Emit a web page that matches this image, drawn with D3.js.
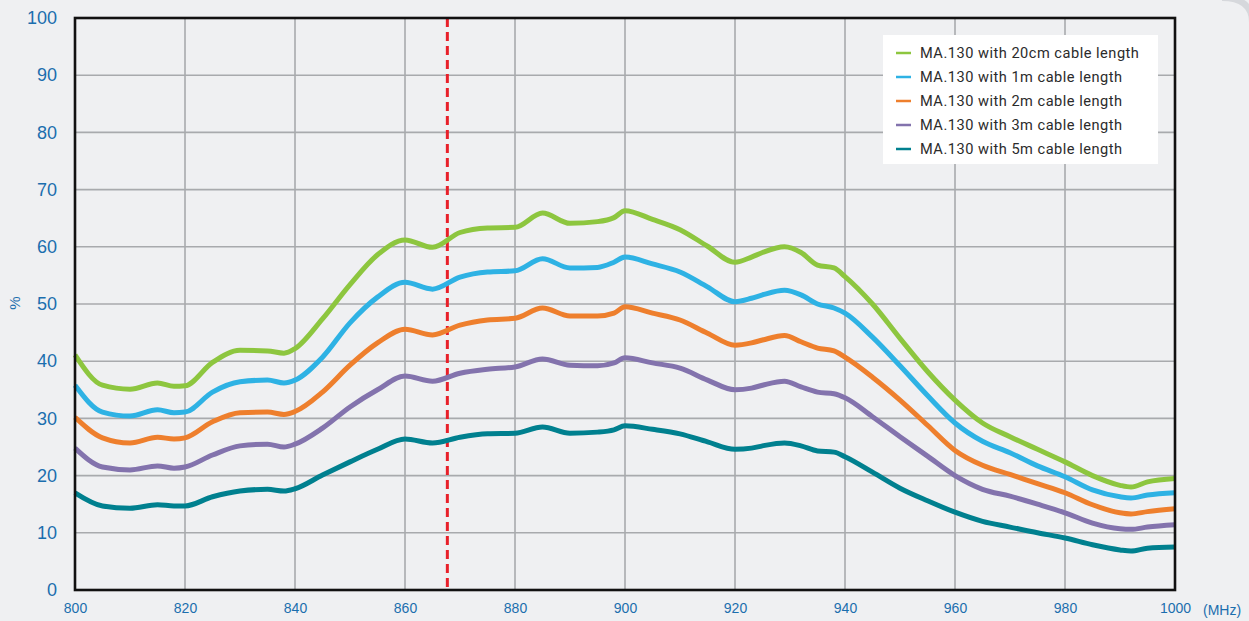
<!DOCTYPE html>
<html>
<head>
<meta charset="utf-8">
<script src="https://cdn.jsdelivr.net/npm/d3@7"></script>
<style>
  html, body { margin: 0; padding: 0; background: #eff0f2; }
  svg { display: block; }
</style>
</head>
<body>
<svg id="chart" width="1249" height="621"></svg>
<script>
// Frequency sample points (MHz)
const freqs = [800,805,810,815,818,820,825,830,835,838,840,845,850,855,860,865,870,875,880,885,890,895,898,900,905,910,915,920,923,925,929,932,935,938,940,945,950,955,960,965,970,975,980,985,990,992,995,1000];

// Efficiency (%) per cable length
const cable20cm = [41.1,35.8,35.1,36.2,35.6,35.7,39.8,41.9,41.8,41.4,42.2,47.4,53.4,58.6,61.2,59.9,62.5,63.3,63.4,65.9,64.1,64.4,65.1,66.3,64.8,63.0,60.1,57.3,58.2,59.0,60.0,59.0,56.8,56.3,54.8,50.0,44.0,38.2,33.2,29.2,26.8,24.6,22.4,20.0,18.3,18.0,18.9,19.5];
const cable1m   = [35.8,31.1,30.4,31.5,31.0,31.1,34.6,36.4,36.7,36.2,36.7,40.7,46.7,51.2,53.8,52.6,54.7,55.6,55.8,57.9,56.3,56.4,57.3,58.2,57.0,55.6,53.0,50.4,51.0,51.6,52.4,51.6,50.0,49.3,48.4,44.2,39.2,34.0,29.2,26.0,24.0,21.7,19.8,17.5,16.3,16.1,16.6,17.0];
const cable2m   = [30.2,26.6,25.7,26.7,26.4,26.6,29.4,31.0,31.1,30.7,31.2,34.6,39.3,43.2,45.6,44.6,46.3,47.2,47.5,49.3,47.9,47.9,48.4,49.5,48.4,47.2,44.9,42.8,43.2,43.7,44.5,43.4,42.3,41.8,40.7,37.2,33.2,28.8,24.4,21.8,20.2,18.6,17.0,14.9,13.5,13.3,13.7,14.2];
const cable3m   = [24.8,21.5,21.0,21.7,21.3,21.5,23.6,25.2,25.5,25.0,25.5,28.3,32.0,35.0,37.4,36.5,37.9,38.6,39.0,40.4,39.3,39.2,39.7,40.6,39.7,38.8,36.7,35.0,35.3,35.8,36.5,35.5,34.6,34.3,33.6,30.3,26.8,23.4,20.0,17.6,16.4,15.0,13.5,11.7,10.7,10.6,11.0,11.4];
const cable5m   = [17.0,14.7,14.3,14.9,14.7,14.7,16.3,17.3,17.6,17.3,17.7,20.1,22.4,24.6,26.4,25.7,26.7,27.3,27.4,28.5,27.4,27.6,28.0,28.7,28.1,27.3,25.9,24.6,24.8,25.2,25.7,25.2,24.3,24.1,23.3,20.6,17.8,15.6,13.6,12.0,11.0,10.0,9.1,7.9,7.0,6.8,7.3,7.5];

const seriesNames  = ["MA.130 with 20cm cable length","MA.130 with 1m cable length","MA.130 with 2m cable length","MA.130 with 3m cable length","MA.130 with 5m cable length"];
const seriesValues = [cable20cm, cable1m, cable2m, cable3m, cable5m];
const seriesColors = ["#8dc63f","#2eb2e4","#ee7f2d","#8373ad","#00808f"];

const xTicks = [800,820,840,860,880,900,920,940,960,980,1000];
const yTicks = [0,10,20,30,40,50,60,70,80,90,100];
const markerFreq = 867.7;   // dashed marker

const svg = d3.select("#chart");
const plot = {left: 75, right: 1175, top: 18, bottom: 590};

const x = d3.scaleLinear().domain([800, 1000]).range([plot.left, plot.right]);
const y = d3.scaleLinear().domain([0, 100]).range([plot.bottom, plot.top]);

// rounded page corner in the top right
svg.append("path")
  .attr("d", "M1222,-2 Q1252,-2 1252,22")
  .attr("fill", "none").attr("stroke", "#d6d8dc").attr("stroke-width", 6);

// grid
const grid = svg.append("g");
grid.selectAll("line.v").data(xTicks.slice(1, -1)).join("line")
  .attr("x1", d => x(d)).attr("x2", d => x(d))
  .attr("y1", plot.top).attr("y2", plot.bottom)
  .attr("stroke", "#a8aaad").attr("stroke-width", 1.6);
grid.selectAll("line.h").data(yTicks.slice(1, -1)).join("line")
  .attr("x1", plot.left).attr("x2", plot.right)
  .attr("y1", d => y(d)).attr("y2", d => y(d))
  .attr("stroke", "#a8aaad").attr("stroke-width", 1.6);

// legend
const lg = svg.append("g");
lg.append("rect").attr("x", 883).attr("y", 35).attr("width", 275).attr("height", 129).attr("fill", "#ffffff");
seriesNames.forEach((name, i) => {
  const cy = 53 + i * 24;
  lg.append("line").attr("x1", 896).attr("x2", 911).attr("y1", cy).attr("y2", cy)
    .attr("stroke", seriesColors[i]).attr("stroke-width", 2.5);
  lg.append("text").attr("x", 920).attr("y", cy).attr("dy", "0.36em")
    .attr("font-family", "Roboto, 'DejaVu Sans', sans-serif").attr("font-size", 14.6)
    .attr("letter-spacing", 0.5)
    .attr("fill", "#2b2b2b").text(name);
});

// dashed marker
svg.append("line")
  .attr("x1", x(markerFreq)).attr("x2", x(markerFreq))
  .attr("y1", plot.top).attr("y2", plot.bottom)
  .attr("stroke", "#e8202a").attr("stroke-width", 3)
  .attr("stroke-dasharray", "9,5");

// series lines
const line = d3.line()
  .x((d, i) => x(freqs[i]))
  .y(d => y(d))
  .curve(d3.curveMonotoneX);

svg.append("g").selectAll("path").data(seriesValues).join("path")
  .attr("d", d => line(d))
  .attr("fill", "none")
  .attr("stroke", (d, i) => seriesColors[i])
  .attr("stroke-width", 5)
  .attr("stroke-linejoin", "round")
  .attr("stroke-linecap", "butt");

// frame
svg.append("rect")
  .attr("x", plot.left).attr("y", plot.top)
  .attr("width", plot.right - plot.left).attr("height", plot.bottom - plot.top)
  .attr("fill", "none").attr("stroke", "#111").attr("stroke-width", 2.6);

// axes labels
const axisColor = "#1b6eae";
const yAxis = d3.axisLeft(y).tickValues(yTicks).tickFormat(d3.format("d")).tickSize(0).tickPadding(18);
const gy = svg.append("g").attr("transform", `translate(${plot.left},0)`).call(yAxis);
gy.select(".domain").remove();
gy.selectAll("text").attr("fill", axisColor).attr("font-size", 18)
  .attr("font-family", "'Liberation Sans', Arial, sans-serif");

const xAxis = d3.axisBottom(x).tickValues(xTicks).tickFormat(d3.format("d")).tickSize(0).tickPadding(13);
const gx = svg.append("g").attr("transform", `translate(0,${plot.bottom})`).call(xAxis);
gx.select(".domain").remove();
gx.selectAll("text").attr("fill", axisColor).attr("font-size", 14)
  .attr("font-family", "'Liberation Sans', Arial, sans-serif");

svg.append("text").attr("x", 1203).attr("y", 615)
  .attr("fill", axisColor).attr("font-size", 14)
  .attr("font-family", "'Liberation Sans', Arial, sans-serif").text("(MHz)");

svg.append("text")
  .attr("transform", "translate(20,303) rotate(-90)")
  .attr("text-anchor", "middle")
  .attr("fill", axisColor).attr("font-size", 15)
  .attr("font-family", "'Liberation Sans', Arial, sans-serif").text("%");
</script>
</body>
</html>
